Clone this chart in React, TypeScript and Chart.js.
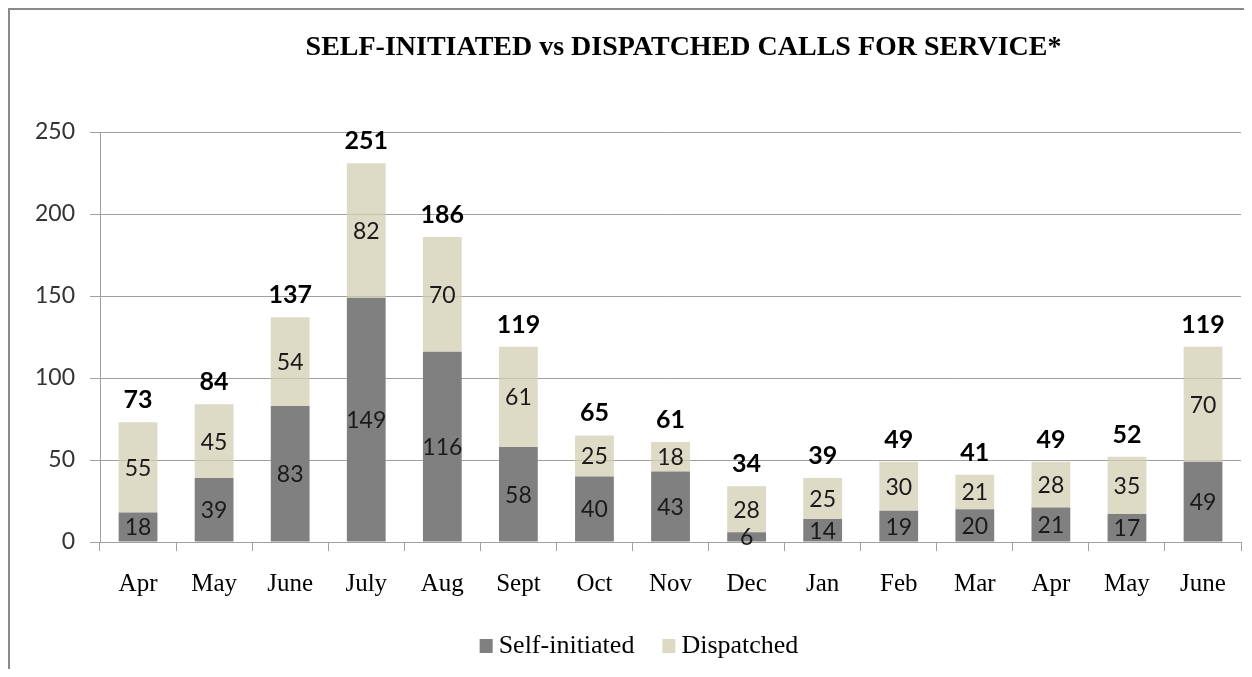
import React, { useEffect, useRef } from "react";
import { Chart, registerables } from "chart.js";

Chart.register(...registerables);

const categories = ["Apr", "May", "June", "July", "Aug", "Sept", "Oct", "Nov", "Dec", "Jan", "Feb", "Mar", "Apr", "May", "June"];
const selfInitiated = [18, 39, 83, 149, 116, 58, 40, 43, 6, 14, 19, 20, 21, 17, 49];
const dispatched = [55, 45, 54, 82, 70, 61, 25, 18, 28, 25, 30, 21, 28, 35, 70];
const totals = [73, 84, 137, 251, 186, 119, 65, 61, 34, 39, 49, 41, 49, 52, 119];
const titleText = "SELF-INITIATED vs DISPATCHED CALLS FOR SERVICE*";
const seriesNames = ["Self-initiated", "Dispatched"];

const SERIF = "'Liberation Serif', 'Times New Roman', serif";
const SANS = "Lato, 'Liberation Sans', sans-serif";

const labelsPlugin = {
  id: "labelsPlugin",
  afterDatasetsDraw(chart: any) {
    const ctx = chart.ctx;
    ctx.save();
    ctx.textAlign = "center";
    ctx.textBaseline = "middle";
    ctx.fillStyle = "#1a1a1a";
    ctx.font = `23px ${SANS}`;
    chart.data.datasets.forEach((ds: any, di: number) => {
      const meta = chart.getDatasetMeta(di);
      meta.data.forEach((bar: any, i: number) => {
        const y = (bar.y + bar.base) / 2;
        ctx.fillText(String(ds.data[i]), bar.x, y + 1);
      });
    });
    const topMeta = chart.getDatasetMeta(chart.data.datasets.length - 1);
    ctx.font = `bold 25px ${SANS}`;
    ctx.fillStyle = "#000";
    ctx.textBaseline = "middle";
    topMeta.data.forEach((bar: any, i: number) => {
      ctx.fillText(String(totals[i]), bar.x, bar.y - 22);
    });
    ctx.restore();
  },
};

const titleLegendPlugin = {
  id: "titleLegendPlugin",
  afterDraw(chart: any) {
    const ctx = chart.ctx;
    const area = chart.chartArea;
    ctx.save();
    // title
    ctx.font = `bold 28px ${SERIF}`;
    ctx.fillStyle = "#000";
    ctx.textAlign = "center";
    ctx.textBaseline = "middle";
    ctx.fillText(titleText, (area.left + area.right) / 2 + 13, 38);
    // legend
    ctx.font = `26px ${SERIF}`;
    ctx.textAlign = "left";
    const box = 13;
    const gapBoxText = 6;
    const gapItems = 28;
    const items = chart.data.datasets.map((ds: any) => ({
      text: ds.label,
      color: ds.legendColor,
      w: ctx.measureText(ds.label).width,
    }));
    let total = 0;
    items.forEach((it: any, k: number) => {
      total += box + gapBoxText + it.w + (k < items.length - 1 ? gapItems : 0);
    });
    let x = chart.width / 2 + 12 - total / 2;
    const y = 635;
    items.forEach((it: any) => {
      ctx.fillStyle = it.color;
      ctx.fillRect(x, y - 6, box, 14);
      x += box + gapBoxText;
      ctx.fillStyle = "#000";
      ctx.fillText(it.text, x, y + 1);
      x += it.w + gapItems;
    });
    ctx.restore();
  },
};

export default function App() {
  const ref = useRef<HTMLCanvasElement | null>(null);

  useEffect(() => {
    if (!ref.current) return;
    const chart = new Chart(ref.current, {
      type: "bar",
      data: {
        labels: categories,
        datasets: [
          {
            label: seriesNames[0],
            data: selfInitiated,
            backgroundColor: "#808080",
            legendColor: "#808080",
            borderWidth: 0,
            barPercentage: 0.51,
            categoryPercentage: 1,
          } as any,
          {
            label: seriesNames[1],
            data: dispatched,
            backgroundColor: "rgba(210,205,178,0.75)",
            legendColor: "#ddd9c3",
            borderWidth: 0,
            barPercentage: 0.51,
            categoryPercentage: 1,
          } as any,
        ],
      },
      options: {
        responsive: false,
        animation: false,
        layout: { padding: { top: 122, bottom: 0, left: 0, right: 2 } },
        plugins: {
          legend: { display: false },
          title: { display: false },
          tooltip: { enabled: false },
        },
        scales: {
          x: {
            stacked: true,
            offset: true,
            grid: {
              display: true,
              drawOnChartArea: false,
              drawTicks: true,
              tickLength: 9,
              offset: true,
              color: "#a0a0a0",
            },
            border: { display: true, color: "#a0a0a0", width: 1 },
            ticks: {
              color: "#000",
              font: { family: SERIF, size: 25 },
              padding: 18,
              maxRotation: 0,
              autoSkip: false,
            },
            afterFit: (s: any) => {
              s.height = 127;
            },
          },
          y: {
            stacked: true,
            min: 0,
            max: 250,
            ticks: {
              stepSize: 50,
              color: "#333",
              font: { family: SANS, size: 23 },
              padding: 15,
            },
            grid: {
              color: "#a0a0a0",
              lineWidth: 1,
              tickLength: 10,
              drawTicks: true,
            },
            border: { display: true, color: "#a0a0a0", width: 1 },
            afterFit: (s: any) => {
              s.width = 90;
            },
          },
        },
      } as any,
      plugins: [labelsPlugin, titleLegendPlugin],
    });
    return () => chart.destroy();
  }, []);

  return (
    <div
      style={{
        borderTop: "2px solid #8a8a8a",
        borderLeft: "2px solid #8a8a8a",
        width: 1234,
        height: 659,
      }}
    >
      <canvas ref={ref} width={1234} height={659} style={{ display: "block" }} />
    </div>
  );
}
